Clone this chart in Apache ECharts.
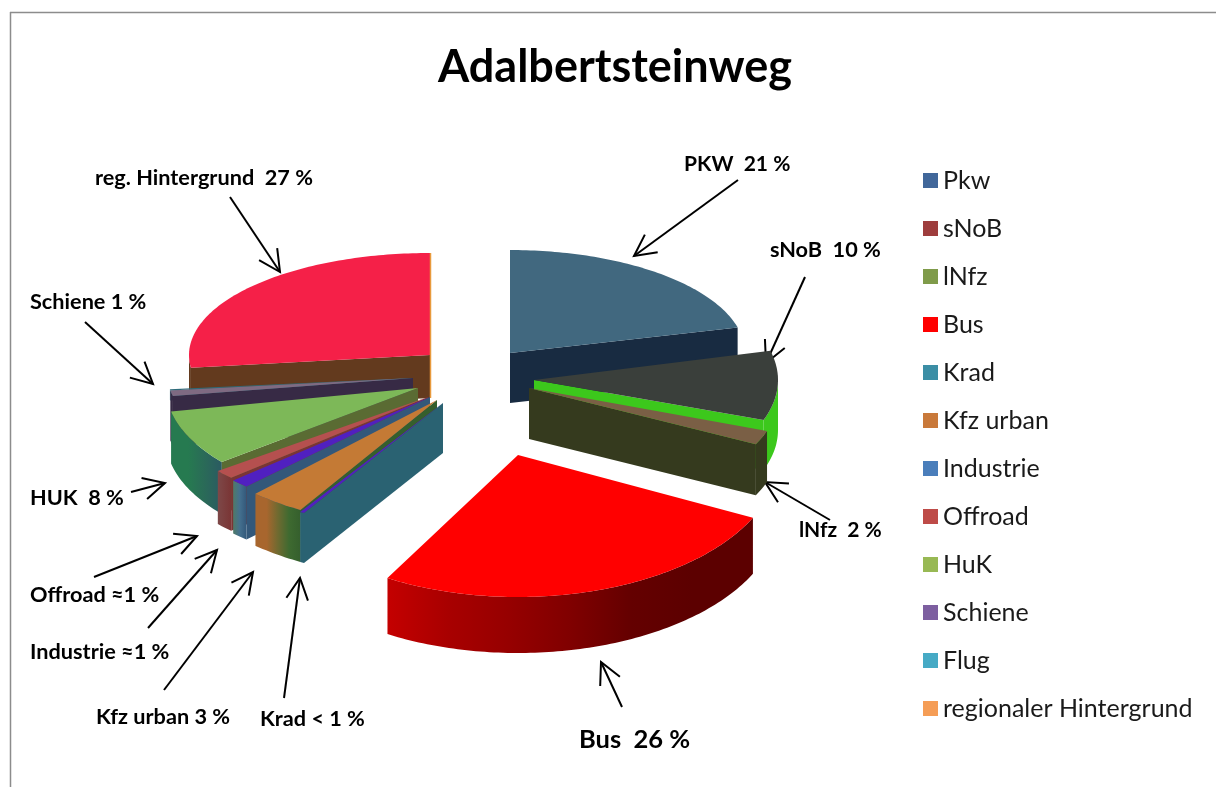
<!DOCTYPE html>
<html>
<head>
<meta charset="utf-8">
<title>Adalbertsteinweg</title>
<style>
  html, body { margin: 0; padding: 0; background: #fff; }
  #chart { width: 1216px; height: 787px; }
</style>
<script src="https://cdn.jsdelivr.net/npm/echarts@6/dist/echarts.min.js"></script>
</head>
<body>
<div id="chart"></div>
<script>
// values, in percent, clockwise from the top
const names = ['Pkw', 'sNoB', 'lNfz', 'Bus', 'Krad', 'Kfz urban', 'Industrie', 'Offroad', 'HuK', 'Schiene', 'Flug', 'regionaler Hintergrund'];
const shares = [21, 9.5, 1.8, 26, 0.25, 3.35, 1.1, 1.2, 7.6, 1, 0.2, 27];
const legendColors = ['#41679a', '#9e3d3d', '#7f9b4a', '#ff0000', '#3b8ea5', '#c9793a', '#4a7ebb', '#be4b48', '#98b954', '#7d5fa0', '#46aac5', '#f59d56'];

// face colours of the odd 3D shading in the original
const topColors = ['#41687f', '#3a3f3b', '#7a5f45', '#ff0000', '#5020c0', '#c47a35', '#5020c0', '#b5504f', '#7db858', '#7f6a82', '#2e6b7a', '#f52048'];
const cutColors = ['#182b41', '#3cc81c', '#353a1e', '#800000', '#2a6272', '#355f2d', '#33587a', '#7a3535', '#5a6b33', '#372a45', '#2e6b7a', '#633a1e'];
const rimColors = [
  ['#182b41', '#182b41'],
  ['#3cc81c', '#3cc81c'],
  ['#353a1e', '#353a1e'],
  ['#c40000', '#a80000', '#960000', '#800000', '#640000', '#5c0000', '#5c0000'],
  ['#2a6272', '#2a6272'],
  ['#a8662e', '#a8662e', '#6f6a30', '#3e6a30', '#355f2d'],
  ['#4f7a68', '#44708f', '#33587a'],
  ['#7d4848', '#7a3535'],
  ['#267a50', '#267a50', '#2a6a58', '#2a5a62'],
  ['#372a45', '#372a45'],
  ['#2e6b7a', '#2e6b7a'],
  ['#633a1e', '#633a1e']
];

// exploded position of each wedge on screen: apex, ellipse radii, height, paint order
const apexX = [510, 534, 529, 518, 443, 437, 430, 428, 418, 413, 413, 430];
const apexY = [353, 380, 388, 455, 403, 400, 397, 397, 388, 378, 378, 355];
const radiusX = [235, 244, 253, 262, 279, 267, 270, 270, 252, 245, 245, 241];
const radiusY = [103, 118, 127, 142, 127, 128, 122, 118, 118, 90, 90, 102];
const heights = [50, 50, 51, 56, 50, 52, 53, 53, 52, 50, 10, 43];
const paintOrder = [1, 2, 3, 4, 12, 11, 10, 9, 8, 7, 6, 5];

const labels = [
  { text: 'Adalbertsteinweg', x: 615, y: 67, font: 'bold 45px Lato', align: 'center' },
  { text: 'PKW  21 %', x: 684, y: 164, font: 'bold 21px Lato' },
  { text: 'sNoB  10 %', x: 770, y: 250 },
  { text: 'lNfz  2 %', x: 799, y: 530, font: 'bold 21px Lato' },
  { text: 'Bus  26 %', x: 579, y: 740, font: 'bold 25.5px Lato' },
  { text: 'Krad < 1 %', x: 260, y: 719 },
  { text: 'Kfz urban 3 %', x: 96, y: 717 },
  { text: 'Industrie ≈1 %', x: 30, y: 652 },
  { text: 'Offroad ≈1 %', x: 30, y: 595 },
  { text: 'HUK  8 %', x: 30, y: 498 },
  { text: 'Schiene 1 %', x: 30, y: 302 },
  { text: 'reg. Hintergrund  27 %', x: 95, y: 178 }
];

// tail x, tail y, head x, head y
const arrows = [
  [230, 197, 280, 272],
  [738, 180, 634, 256],
  [805, 277, 766, 363],
  [830, 520, 765, 482],
  [622, 707, 601, 662],
  [284, 698, 300, 578],
  [164, 690, 253, 572],
  [148, 628, 217, 550],
  [94, 577, 197, 536],
  [131, 492, 165, 483],
  [85, 322, 153, 384]
];

const RAD = Math.PI / 180;

function rimPoint(i, deg, drop) {
  return [
    apexX[i] + radiusX[i] * Math.sin(deg * RAD),
    apexY[i] - radiusY[i] * Math.cos(deg * RAD) + drop
  ];
}

function renderSlice(params, api) {
  const i = params.seriesIndex;
  const a0 = api.value(0) * 3.6;
  const a1 = api.value(1) * 3.6;
  const h = heights[i];
  const apex = [apexX[i], apexY[i]];
  const children = [];

  // outer wall, only the part that faces the viewer
  const w0 = Math.max(a0, 90);
  const w1 = Math.min(a1, 270);
  if (w1 > w0) {
    const upper = [], lower = [];
    for (let d = w0; d < w1; d += 1) {
      upper.push(rimPoint(i, d, 0));
      lower.unshift(rimPoint(i, d, h));
    }
    upper.push(rimPoint(i, w1, 0));
    lower.unshift(rimPoint(i, w1, h));
    const stops = rimColors[i];
    children.push({
      type: 'polygon',
      shape: { points: upper.concat(lower) },
      style: {
        fill: new echarts.graphic.LinearGradient(0, 0, 1, 0, stops.map((c, k) => ({
          offset: k / (stops.length - 1),
          color: c
        })))
      }
    });
  }

  // cut face: end edge on the right half, start edge on the left half
  let cutAngle = null;
  if (a1 < 180) cutAngle = a1;
  else if (a0 > 180) cutAngle = a0;
  if (cutAngle !== null) {
    const p = rimPoint(i, cutAngle, 0);
    children.push({
      type: 'polygon',
      shape: { points: [apex, p, [p[0], p[1] + h], [apex[0], apex[1] + h]] },
      style: { fill: cutColors[i] }
    });
  }

  // top face
  const top = [apex];
  for (let d = a0; d < a1; d += 1) top.push(rimPoint(i, d, 0));
  top.push(rimPoint(i, a1, 0));
  children.push({ type: 'polygon', shape: { points: top }, style: { fill: topColors[i] } });

  // sliver of the orange wall that closes the circle
  if (a1 >= 359.9) {
    const p = rimPoint(i, a1, 0);
    children.push({
      type: 'line',
      shape: { x1: p[0] + 0.5, y1: p[1], x2: apex[0] + 0.5, y2: apex[1] + h },
      style: { stroke: '#e89a3c', lineWidth: 1.5 }
    });
  }
  return { type: 'group', children: children };
}

function arrowElements() {
  const out = [];
  arrows.forEach(([x1, y1, x2, y2]) => {
    const ang = Math.atan2(y1 - y2, x1 - x2);
    const arm = (s) => [x2 + 24 * Math.cos(ang + s * 0.47), y2 + 24 * Math.sin(ang + s * 0.47)];
    out.push({ type: 'line', shape: { x1, y1, x2, y2 }, style: { stroke: '#000', lineWidth: 2 }, silent: true });
    out.push({ type: 'polyline', shape: { points: [arm(1), [x2, y2], arm(-1)] }, style: { stroke: '#000', fill: null, lineWidth: 2 }, silent: true });
  });
  return out;
}

let running = 0;
const series = names.map((name, i) => {
  const start = running;
  running += shares[i];
  return {
    name: name,
    type: 'custom',
    coordinateSystem: 'none',
    z: paintOrder[i],
    itemStyle: { color: legendColors[i] },
    renderItem: renderSlice,
    data: [[start, running]],
    silent: true
  };
});

const chart = echarts.init(document.getElementById('chart'), null, { renderer: 'canvas' });
chart.setOption({
  animation: false,
  backgroundColor: '#fff',
  legend: {
    data: names,
    orient: 'vertical',
    left: 918,
    top: 163,
    icon: 'rect',
    itemWidth: 15,
    itemHeight: 15,
    itemGap: 23,
    selectedMode: false,
    textStyle: { fontFamily: 'Lato', fontSize: 25, color: '#1a1a1a' }
  },
  graphic: [
    { type: 'line', shape: { x1: 10, y1: 12.5, x2: 1216, y2: 12.5 }, style: { stroke: '#8c8c8c', lineWidth: 1.5 }, silent: true },
    { type: 'line', shape: { x1: 10.5, y1: 12, x2: 10.5, y2: 787 }, style: { stroke: '#8c8c8c', lineWidth: 1.5 }, silent: true },
    ...arrowElements(),
    ...labels.map((l) => ({
      type: 'text',
      silent: true,
      z: 20,
      style: {
        text: l.text,
        x: l.x,
        y: l.y,
        align: l.align || 'left',
        verticalAlign: 'middle',
        font: l.font || 'bold 21.7px Lato',
        fill: '#000'
      }
    }))
  ],
  series: series
});
window.addEventListener('resize', () => chart.resize());
</script>
</body>
</html>
